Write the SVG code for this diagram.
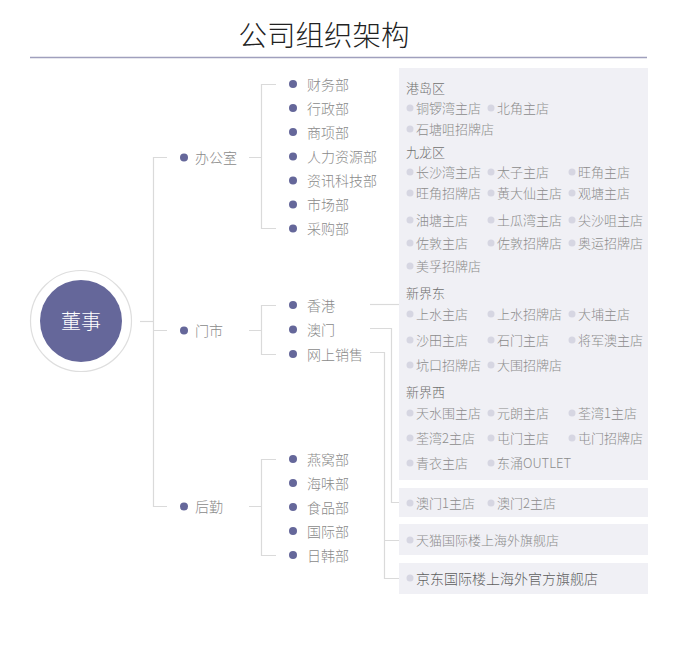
<svg xmlns="http://www.w3.org/2000/svg" width="676" height="647" viewBox="0 0 676 647">
<style>
text{font-family:"Noto Sans CJK SC","Liberation Sans",sans-serif;dominant-baseline:central;font-weight:300}
.title{font-size:28.5px;fill:#222;text-anchor:middle}
.l1{font-size:14px;fill:#8a8a8a}
.l2{font-size:14px;fill:#8a8a8a}
.hd{font-size:13px;fill:#707070}
.it{font-size:13px;fill:#8c8c8c}
.big{font-size:14px;fill:#5e5e5e}
.dot{fill:#65679a}
.sd{fill:#d6d6e2}
.box{fill:#f0f0f5}
.ln{stroke:#dadada;stroke-width:1.2;fill:none}
</style>
<rect width="676" height="647" fill="#fff"/>
<text class="title" x="324" y="33.5">公司组织架构</text>
<line x1="30" y1="57.5" x2="647" y2="57.5" stroke="#a0a0bd" stroke-width="1.5"/>

<g id="connectors">
<path class="ln" d="M140 321.5H153"/>
<path class="ln" d="M167 157.5H153.5V506.5H167M153.5 330.5H167"/>
<path class="ln" d="M249 157.5H261.5M276 84.5H261.5V228.5H276"/>
<path class="ln" d="M249 330.5H261.5M276 305.5H261.5V354.5H276"/>
<path class="ln" d="M249 506.5H261.5M276 459.5H261.5V555.5H276"/>
<path class="ln" d="M370 304.5H399"/>
<path class="ln" d="M370 328.5H391.5V502.5H399"/>
<path class="ln" d="M370 352.5H384.5V578.5H399M384.5 540.5H399"/>
</g>

<g id="root">
<circle cx="81" cy="321" r="50.5" fill="#fff" stroke="#dedede" stroke-width="1.2"/>
<circle cx="81" cy="321" r="41" fill="#65679a"/>
<text x="81" y="320.5" font-size="20" fill="#fff" text-anchor="middle">董事</text>
</g>

<g id="office"><circle class="dot" cx="184" cy="157.5" r="4"/><text class="l1" x="195" y="157">办公室</text></g>
<g id="store"><circle class="dot" cx="184" cy="330.5" r="4"/><text class="l1" x="195" y="330">门市</text></g>
<g id="logistics"><circle class="dot" cx="184" cy="506.5" r="4"/><text class="l1" x="195" y="506">后勤</text></g>

<g id="office-depts">
<circle class="dot" cx="293" cy="84" r="4"/><text class="l2" x="307" y="83.5">财务部</text>
<circle class="dot" cx="293" cy="108" r="4"/><text class="l2" x="307" y="107.5">行政部</text>
<circle class="dot" cx="293" cy="132" r="4"/><text class="l2" x="307" y="131.5">商项部</text>
<circle class="dot" cx="293" cy="156.5" r="4"/><text class="l2" x="307" y="156">人力资源部</text>
<circle class="dot" cx="293" cy="180.5" r="4"/><text class="l2" x="307" y="180">资讯科技部</text>
<circle class="dot" cx="293" cy="204.5" r="4"/><text class="l2" x="307" y="204">市场部</text>
<circle class="dot" cx="293" cy="228.5" r="4"/><text class="l2" x="307" y="228">采购部</text>
</g>
<g id="store-depts">
<circle class="dot" cx="293" cy="305" r="4"/><text class="l2" x="307" y="304.5">香港</text>
<circle class="dot" cx="293" cy="329.5" r="4"/><text class="l2" x="307" y="329">澳门</text>
<circle class="dot" cx="293" cy="354" r="4"/><text class="l2" x="307" y="353.5">网上销售</text>
</g>
<g id="logistics-depts">
<circle class="dot" cx="293" cy="459" r="4"/><text class="l2" x="307" y="458.5">燕窝部</text>
<circle class="dot" cx="293" cy="483" r="4"/><text class="l2" x="307" y="482.5">海味部</text>
<circle class="dot" cx="293" cy="507" r="4"/><text class="l2" x="307" y="506.5">食品部</text>
<circle class="dot" cx="293" cy="531" r="4"/><text class="l2" x="307" y="530.5">国际部</text>
<circle class="dot" cx="293" cy="555" r="4"/><text class="l2" x="307" y="554.5">日韩部</text>
</g>

<g id="hk-panel">
<rect class="box" x="399" y="68" width="249" height="412"/>
<text class="hd" x="406" y="87">港岛区</text>
<circle class="sd" cx="410" cy="108" r="3.5"/><text class="it" x="416" y="107.5">铜锣湾主店</text>
<circle class="sd" cx="491" cy="108" r="3.5"/><text class="it" x="497" y="107.5">北角主店</text>
<circle class="sd" cx="410" cy="129" r="3.5"/><text class="it" x="416" y="128.5">石塘咀招牌店</text>
<text class="hd" x="406" y="151">九龙区</text>
<circle class="sd" cx="410" cy="172" r="3.5"/><text class="it" x="416" y="171.5">长沙湾主店</text>
<circle class="sd" cx="491" cy="172" r="3.5"/><text class="it" x="497" y="171.5">太子主店</text>
<circle class="sd" cx="572" cy="172" r="3.5"/><text class="it" x="578" y="171.5">旺角主店</text>
<circle class="sd" cx="410" cy="193" r="3.5"/><text class="it" x="416" y="192.5">旺角招牌店</text>
<circle class="sd" cx="491" cy="193" r="3.5"/><text class="it" x="497" y="192.5">黄大仙主店</text>
<circle class="sd" cx="572" cy="193" r="3.5"/><text class="it" x="578" y="192.5">观塘主店</text>
<circle class="sd" cx="410" cy="220" r="3.5"/><text class="it" x="416" y="219.5">油塘主店</text>
<circle class="sd" cx="491" cy="220" r="3.5"/><text class="it" x="497" y="219.5">土瓜湾主店</text>
<circle class="sd" cx="572" cy="220" r="3.5"/><text class="it" x="578" y="219.5">尖沙咀主店</text>
<circle class="sd" cx="410" cy="243" r="3.5"/><text class="it" x="416" y="242.5">佐敦主店</text>
<circle class="sd" cx="491" cy="243" r="3.5"/><text class="it" x="497" y="242.5">佐敦招牌店</text>
<circle class="sd" cx="572" cy="243" r="3.5"/><text class="it" x="578" y="242.5">奥运招牌店</text>
<circle class="sd" cx="410" cy="266" r="3.5"/><text class="it" x="416" y="265.5">美孚招牌店</text>
<text class="hd" x="406" y="292">新界东</text>
<circle class="sd" cx="410" cy="314" r="3.5"/><text class="it" x="416" y="313.5">上水主店</text>
<circle class="sd" cx="491" cy="314" r="3.5"/><text class="it" x="497" y="313.5">上水招牌店</text>
<circle class="sd" cx="572" cy="314" r="3.5"/><text class="it" x="578" y="313.5">大埔主店</text>
<circle class="sd" cx="410" cy="340" r="3.5"/><text class="it" x="416" y="339.5">沙田主店</text>
<circle class="sd" cx="491" cy="340" r="3.5"/><text class="it" x="497" y="339.5">石门主店</text>
<circle class="sd" cx="572" cy="340" r="3.5"/><text class="it" x="578" y="339.5">将军澳主店</text>
<circle class="sd" cx="410" cy="365" r="3.5"/><text class="it" x="416" y="364.5">坑口招牌店</text>
<circle class="sd" cx="491" cy="365" r="3.5"/><text class="it" x="497" y="364.5">大围招牌店</text>
<text class="hd" x="406" y="391">新界西</text>
<circle class="sd" cx="410" cy="413" r="3.5"/><text class="it" x="416" y="412.5">天水围主店</text>
<circle class="sd" cx="491" cy="413" r="3.5"/><text class="it" x="497" y="412.5">元朗主店</text>
<circle class="sd" cx="572" cy="413" r="3.5"/><text class="it" x="578" y="412.5">荃湾1主店</text>
<circle class="sd" cx="410" cy="438" r="3.5"/><text class="it" x="416" y="437.5">荃湾2主店</text>
<circle class="sd" cx="491" cy="438" r="3.5"/><text class="it" x="497" y="437.5">屯门主店</text>
<circle class="sd" cx="572" cy="438" r="3.5"/><text class="it" x="578" y="437.5">屯门招牌店</text>
<circle class="sd" cx="410" cy="463" r="3.5"/><text class="it" x="416" y="462.5">青衣主店</text>
<circle class="sd" cx="491" cy="463" r="3.5"/><text class="it" x="497" y="462.5">东涌OUTLET</text>
</g>

<g id="macau-panel">
<rect class="box" x="399" y="488" width="249" height="29"/>
<circle class="sd" cx="410" cy="503" r="3.5"/><text class="it" x="416" y="502.5">澳门1主店</text>
<circle class="sd" cx="491" cy="503" r="3.5"/><text class="it" x="497" y="502.5">澳门2主店</text>
</g>
<g id="tmall-panel">
<rect class="box" x="399" y="524" width="249" height="31"/>
<circle class="sd" cx="410" cy="540" r="3.5"/><text class="it" x="416" y="539.5">天猫国际楼上海外旗舰店</text>
</g>
<g id="jd-panel">
<rect class="box" x="399" y="563" width="249" height="31"/>
<circle class="sd" cx="410" cy="578" r="3.5"/><text class="big" x="416" y="577.5">京东国际楼上海外官方旗舰店</text>
</g>
</svg>
